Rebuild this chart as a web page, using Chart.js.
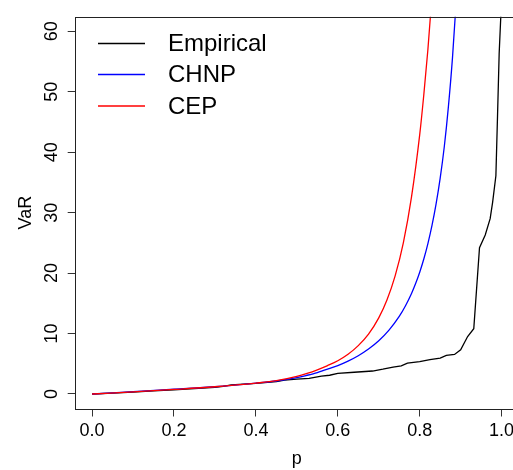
<!DOCTYPE html>
<html>
<head>
<meta charset="utf-8">
<script src="https://cdn.jsdelivr.net/npm/chart.js@4.4.1/dist/chart.umd.min.js"></script>
<style>
    html, body { margin: 0; padding: 0; background: #fff; overflow: hidden; }
    #wrap { position: relative; width: 540px; height: 470px; }
</style>
</head>
<body>
<div id="wrap"><canvas id="chart"></canvas></div>
<script>
// values
const xTicks = [0, 0.2, 0.4, 0.6, 0.8, 1.0];
const yTicks = [0, 10, 20, 30, 40, 50, 60];

const pEmpirical = [0, 0.05, 0.10, 0.15, 0.20, 0.25, 0.30, 0.32, 0.34, 0.40, 0.45, 0.47, 0.50, 0.53, 0.56, 0.58, 0.60, 0.64, 0.685, 0.71, 0.735, 0.755, 0.77, 0.80, 0.825, 0.85, 0.865, 0.885, 0.90, 0.91, 0.917, 0.932, 0.946, 0.96, 0.972, 0.978, 0.986, 0.99, 0.994, 0.999, 1.0];
const vEmpirical = [0, 0.15, 0.3, 0.5, 0.68, 0.88, 1.1, 1.25, 1.5, 1.75, 2.05, 2.3, 2.45, 2.6, 2.95, 3.1, 3.4, 3.6, 3.8, 4.1, 4.45, 4.65, 5.1, 5.35, 5.7, 5.95, 6.4, 6.55, 7.3, 8.6, 9.5, 10.8, 24.2, 26.3, 29.0, 31.7, 36.1, 46, 56.3, 64, 80];

const pChnp = [0, 0.10, 0.20, 0.30, 0.40, 0.45, 0.50, 0.525, 0.55, 0.575, 0.60, 0.625, 0.65, 0.675, 0.70, 0.725, 0.75, 0.765, 0.78, 0.79, 0.80, 0.81, 0.82, 0.83, 0.84, 0.85, 0.86, 0.87, 0.88, 0.89];
const vChnp = [0, 0.4, 0.8, 1.2, 1.8, 2.15, 2.7, 3.1, 3.55, 4.1, 4.7, 5.44, 6.33, 7.43, 8.8, 10.56, 12.83, 14.56, 16.63, 18.27, 20.15, 22.33, 24.88, 27.88, 31.44, 35.7, 40.9, 47.5, 55.6, 66];

const pCep = [0, 0.10, 0.20, 0.30, 0.40, 0.45, 0.50, 0.525, 0.55, 0.575, 0.60, 0.625, 0.65, 0.675, 0.70, 0.72, 0.74, 0.76, 0.78, 0.80, 0.81, 0.82, 0.83];
const vCep = [0, 0.35, 0.75, 1.2, 1.8, 2.2, 2.9, 3.4, 4.0, 4.7, 5.5, 6.57, 8.0, 9.91, 12.6, 15.55, 19.53, 25.0, 32.6, 42.9, 49.5, 57.0, 66.0];

const seriesNames = ['Empirical', 'CHNP', 'CEP'];
const seriesColors = ['#000000', '#0000ff', '#ff0000'];

const FONT = "'Liberation Sans', Arial, Helvetica, sans-serif";

function toPoints(xs, ys) {
    return xs.map((x, i) => ({ x: x, y: ys[i] }));
}

// box round the plot region plus the legend in the top-left corner, R style
const framePlugin = {
    id: 'frame',
    afterDraw(chart) {
        const { ctx, chartArea } = chart;
        ctx.save();
        ctx.strokeStyle = '#222';
        ctx.lineWidth = 1;
        ctx.strokeRect(Math.round(chartArea.left) - 0.5, Math.round(chartArea.top) + 0.5,
            Math.round(chartArea.right - chartArea.left), Math.round(chartArea.bottom - chartArea.top));

        const x0 = 98, x1 = 145, tx = 168;
        const rows = [43.5, 74.5, 106];
        ctx.font = '24px ' + FONT;
        ctx.textBaseline = 'middle';
        ctx.textAlign = 'left';
        seriesNames.forEach((name, i) => {
            ctx.strokeStyle = seriesColors[i];
            ctx.lineWidth = 1.3;
            ctx.beginPath();
            ctx.moveTo(x0, rows[i]);
            ctx.lineTo(x1, rows[i]);
            ctx.stroke();
            ctx.fillStyle = '#000';
            ctx.fillText(name, tx, rows[i] + 1);
        });
        ctx.restore();
    }
};

const datasets = [
    { label: seriesNames[0], data: toPoints(pEmpirical, vEmpirical), order: 3, tension: 0 },
    { label: seriesNames[1], data: toPoints(pChnp, vChnp), order: 2, cubicInterpolationMode: 'monotone' },
    { label: seriesNames[2], data: toPoints(pCep, vCep), order: 1, cubicInterpolationMode: 'monotone' }
].map((d, i) => Object.assign(d, {
    borderColor: seriesColors[i],
    borderWidth: 1.3,
    pointRadius: 0,
    fill: false
}));

new Chart(document.getElementById('chart'), {
    type: 'line',
    data: { datasets: datasets },
    plugins: [framePlugin],
    options: {
        responsive: true,
        maintainAspectRatio: false,
        animation: false,
        layout: { padding: { left: 0, right: 22, top: 12.7, bottom: 0 } },
        plugins: {
            legend: { display: false },
            tooltip: { enabled: false }
        },
        scales: {
            x: {
                type: 'linear',
                min: -0.04,
                max: 1.04,
                afterFit: scale => { scale.height = 61.5; },
                afterBuildTicks: scale => { scale.ticks = xTicks.map(v => ({ value: v })); },
                border: { display: false },
                grid: { drawOnChartArea: false, drawTicks: true, tickLength: 8, color: '#333' },
                ticks: {
                    color: '#000',
                    padding: 4,
                    maxRotation: 0,
                    font: { family: FONT, size: 18 },
                    callback: v => v.toFixed(1)
                },
                title: {
                    display: true,
                    text: 'p',
                    color: '#000',
                    padding: { top: 0, bottom: 0 },
                    font: { family: FONT, size: 18 }
                }
            },
            y: {
                min: -2.4,
                max: 62.4,
                afterFit: scale => { scale.width = 75.7; },
                afterBuildTicks: scale => { scale.ticks = yTicks.map(v => ({ value: v })); },
                border: { display: false },
                grid: { drawOnChartArea: false, drawTicks: true, tickLength: 8, color: '#333' },
                ticks: {
                    color: '#000',
                    padding: 6,
                    minRotation: 90,
                    maxRotation: 90,
                    crossAlign: 'center',
                    font: { family: FONT, size: 18 }
                },
                title: {
                    display: true,
                    text: 'VaR',
                    color: '#000',
                    padding: { top: 15, bottom: 0 },
                    font: { family: FONT, size: 18 }
                }
            }
        }
    }
});
</script>
</body>
</html>
